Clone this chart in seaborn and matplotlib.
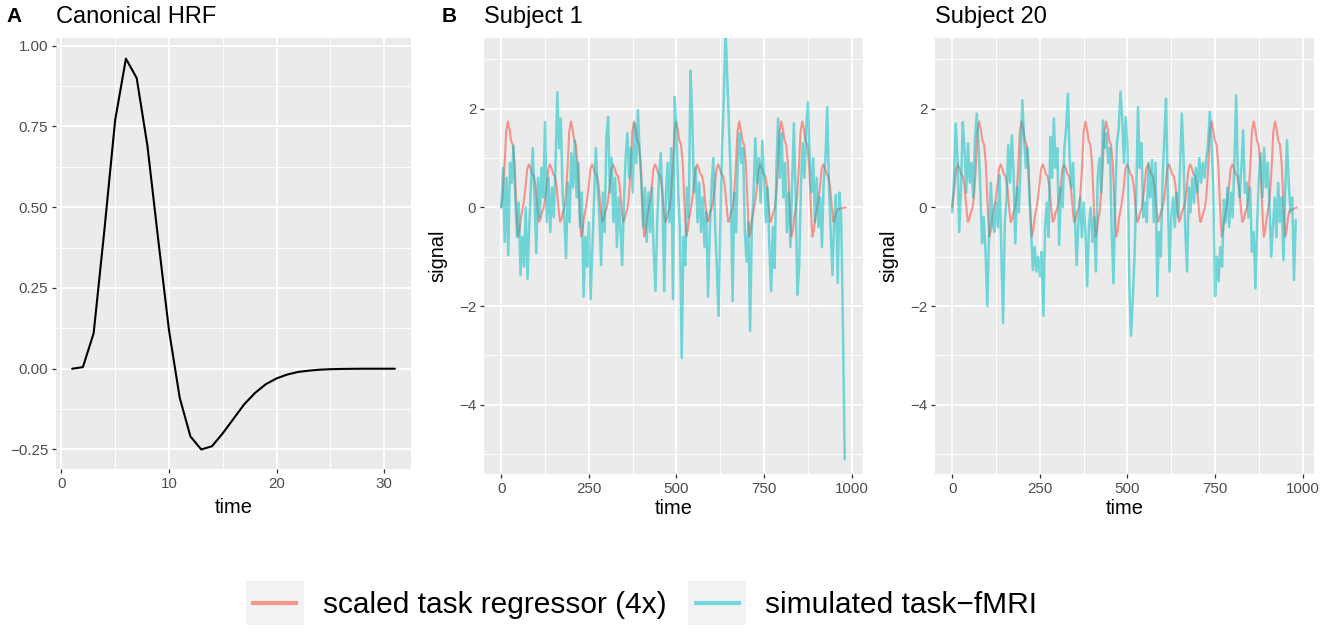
import numpy as np
import pandas as pd
import seaborn as sns
import matplotlib
matplotlib.use("Agg")
import matplotlib.pyplot as plt
from matplotlib.ticker import MultipleLocator, FuncFormatter
from matplotlib.patches import Rectangle
from matplotlib.lines import Line2D
from matplotlib.legend_handler import HandlerBase

# ---------------- data ----------------
hrf_time = list(range(1, 32))
hrf_value = [0.0, 0.005, 0.11, 0.43, 0.77, 0.96, 0.90, 0.69, 0.40, 0.12, -0.09,
             -0.21, -0.25, -0.24, -0.20, -0.155, -0.11, -0.075, -0.048, -0.03,
             -0.018, -0.01, -0.006, -0.003, -0.0015, -0.0007, -0.0003, 0.0, 0.0,
             0.0, 0.0]

# shape of one regressor response (offset from peak, fraction of peak)
resp_offset = [-19, -15, -10, -5, 0, 5, 9, 14, 19, 22, 24, 26, 29, 33, 37, 41]
resp_shape = [0.0, 0.12, 0.44, 0.88, 1.0, 0.9, 0.78, 0.73, 0.5, 0.2, 0.03,
              -0.15, -0.34, -0.27, -0.12, -0.04]

s1_peak_time = [19, 79, 139, 199, 259, 319, 379, 439, 499, 559, 619, 679, 739, 799, 859, 919]
s1_peak_height = [1.74, 0.87, 0.87, 1.74, 0.87, 0.87, 1.74, 0.87, 1.74, 0.87, 0.87,
                  1.74, 0.87, 1.74, 1.74, 0.87]
s20_peak_time = [16, 77, 138, 198, 258, 319, 380, 439, 499, 558, 618, 679, 740, 799, 860, 921]
s20_peak_height = [0.87, 1.74, 0.87, 1.74, 0.87, 0.87, 1.74, 1.74, 0.87, 0.87, 0.87,
                   0.87, 1.74, 0.87, 1.74, 1.74]
series_end = 983

fmri_time = list(range(0, 985, 5))
s1_fmri = [
    0.0, 0.8, -0.7, 0.6, -0.97, 0.9, 0.5, 1.25, 0.2, -0.6, 0.1, -1.37,
    -0.6, -1.2, 0.0, -1.45, -0.4, 0.5, 1.2, 0.2, -0.93, 0.6, -0.2, 0.8,
    0.2, 1.73, -0.3, 0.6, -0.5, 0.4, -0.2, 0.9, 2.33, 1.2, 1.8, 0.3,
    -0.2, -1.03, 0.5, -0.3, 1.1, 0.4, 1.36, 0.2, 0.9, -0.4, 0.3, -1.81,
    -0.6, -1.2, -0.3, -1.86, -0.8, 0.2, 1.2, 0.4, -0.2, -1.17, 0.3, -0.5,
    1.4, 1.83, 0.3, 1.0, -0.3, 0.6, -0.8, 0.2, -0.4, -1.17, 0.1, 1.0,
    1.5, 0.6, 1.2, 0.3, 1.7, 0.9, 1.97, 1.1, 0.5, -0.4, 0.4, -0.7,
    0.3, -0.5, 0.4, -0.9, -1.69, -0.3, 0.6, 1.1, 0.2, -1.7, 0.3, 0.9,
    -0.3, 1.2, -1.86, 2.24, 1.5, 0.3, -0.5, -3.05, -0.6, -1.17, 0.4, -0.2,
    2.77, 1.8, 0.3, 0.8, -0.3, 0.5, -0.5, 0.2, -0.8, -0.1, -1.81, -0.5,
    0.4, 1.0, -0.3, -1.2, -2.2, -0.4, 1.2, 2.2, 3.6, 2.6, 1.6, 0.5,
    -1.9, 0.3, -0.5, 0.9, 1.5, 0.9, 1.2, -0.5, -1.1, -0.3, -2.5, -0.4,
    0.3, 1.4, 0.5, 1.0, 0.1, 1.35, 0.6, -0.3, 0.4, -0.8, -1.7, -0.4,
    -1.23, 0.8, 1.8, 0.6, 1.5, 0.2, 0.9, -0.5, 0.3, -0.8, 0.5, 1.7,
    0.2, -1.77, -1.2, 0.4, 1.3, 0.6, 1.6, 2.13, 1.0, 0.3, 1.0, -0.3,
    0.6, -0.4, 0.2, -0.8, 0.5, 1.0, 2.03, 0.4, -0.5, -1.37, -0.2, 0.25,
    -1.53, 0.3, -0.2, -2.5, -5.1,
]
s20_fmri = [
    -0.1, 0.6, 1.7, 1.0, -0.5, 0.4, 1.73, 1.2, 0.3, 1.3, 0.5, 0.9,
    0.2, 1.4, 1.9, 1.3, 0.4, -0.73, -0.2, -0.9, -2.0, -0.6, 0.5, -0.3,
    -0.5, 0.1, -0.4, 0.65, -0.8, -2.34, -0.3, 0.2, 1.26, 0.5, 1.46, 0.7,
    -0.73, 0.4, -0.1, 0.9, 2.17, 1.4, 0.8, 1.2, 0.3, -0.5, -1.27, -0.8,
    -1.3, -1.0, -1.4, -0.9, -2.2, -0.4, 0.1, -0.6, 1.43, 0.6, 1.8, 0.8,
    1.2, -0.76, 0.4, 0.0, 1.2, 1.6, 2.3, 1.0, 0.4, 0.9, -0.2, -1.17,
    -0.3, 0.2, -0.6, 0.1, -0.5, -1.6, -0.4, 0.0, -0.7, -0.2, -1.3, 0.6,
    1.0, 0.3, 1.76, 1.2, 1.5, 0.9, 1.2, -0.5, -1.54, 0.2, 1.3, 1.6,
    2.34, 1.8, 0.9, 1.83, 1.2, -1.5, -2.6, -1.9, -1.0, 0.3, 2.03, 0.8,
    1.3, -0.2, 0.1, -0.3, 0.9, 0.2, 0.96, -0.3, 0.9, -1.8, -0.5, -1.0,
    0.5, 1.4, 2.2, 0.3, -1.3, -0.2, 0.2, -0.4, 0.3, -0.2, 0.8, 1.9,
    1.0, -0.5, -1.3, 0.4, -0.1, 0.6, 0.1, 0.8, 0.3, 1.0, 0.5, 0.9,
    0.6, 1.0, 1.3, 1.93, 1.3, 0.4, -1.8, -1.0, -1.5, -0.8, -1.2, 0.15,
    -0.3, 0.4, -0.4, 0.3, -0.2, 0.9, 2.27, 0.7, 0.2, 0.8, 1.56, 0.3,
    0.5, -0.2, 0.4, -0.9, -0.5, -1.64, -0.3, 0.6, 1.1, 0.2, 1.2, 0.4,
    0.9, 0.1, -1.0, -0.4, 0.2, -0.6, 0.5, -0.3, 0.2, -1.07, 0.3, 1.36,
    0.5, -0.1, 0.2, -1.47, -0.26,
]

series_labels = ["scaled task regressor (4x)", "simulated task\u2212fMRI"]
series_colors = ["#F8766D", "#00BFC4"]
series_alpha = [0.75, 0.52]


def regressor_knots(peaks, heights):
    t, v = [0.0], [0.0]
    for p, h in zip(peaks, heights):
        for o, s in zip(resp_offset, resp_shape):
            if p + o > t[-1]:
                t.append(p + o)
                v.append(h * s)
    t.append(series_end)
    v.append(0.0)
    return pd.DataFrame({"time": t, "signal": v})


# ---------------- style ----------------
sns.set_theme(style="darkgrid", rc={
    "axes.facecolor": "#EBEBEB",
    "grid.color": "white",
    "axes.edgecolor": "none",
    "text.color": "black",
    "axes.labelcolor": "black",
})
plt.rcParams["font.family"] = ["Liberation Sans", "DejaVu Sans"]
plt.rcParams["axes.unicode_minus"] = True

W, H = 1325, 638
fig = plt.figure(figsize=(W / 100, H / 100), dpi=100)
fig.patch.set_facecolor("white")


def style_axes(ax, xmaj, xmin, ymaj, ymin):
    ax.set_facecolor("#EBEBEB")
    for s in ax.spines.values():
        s.set_visible(False)
    ax.xaxis.set_major_locator(MultipleLocator(xmaj))
    ax.xaxis.set_minor_locator(MultipleLocator(xmin))
    ax.yaxis.set_major_locator(MultipleLocator(ymaj))
    ax.yaxis.set_minor_locator(MultipleLocator(ymin))
    ax.grid(which="major", color="white", lw=1.4)
    ax.grid(which="minor", color="white", lw=0.7)
    ax.set_axisbelow(True)
    ax.tick_params(which="major", length=3.0, width=0.9, color="#333333",
                   labelsize=10.9, labelcolor="#4D4D4D", pad=2.5,
                   bottom=True, left=True)
    ax.tick_params(which="minor", length=0)


def minus_fmt(fmt):
    return FuncFormatter(lambda x, p: fmt.format(x).replace("-", "\u2212"))


# Panel A
axA = fig.add_axes([56 / W, 1 - 469 / H, 355 / W, 431 / H])
hrf_df = pd.DataFrame({"time": hrf_time, "value": hrf_value})
sns.lineplot(data=hrf_df, x="time", y="value", color="black", lw=1.5,
             estimator=None, sort=False, ax=axA)
style_axes(axA, 10, 5, 0.25, 0.125)
axA.set_xlim(-0.5, 32.5)
axA.set_ylim(-0.3105, 1.024)
axA.yaxis.set_major_formatter(minus_fmt("{:.2f}"))
axA.xaxis.set_major_formatter(minus_fmt("{:.0f}"))
axA.set_ylabel("")
axA.set_xlabel("time", fontsize=14.4)
axA.xaxis.set_label_coords(0.5, -0.068)
axA.set_title("Canonical HRF", loc="left", fontsize=17, pad=10.5)

# Panels B
subjects = [
    ("Subject 1", s1_peak_time, s1_peak_height, s1_fmri, 484),
    ("Subject 20", s20_peak_time, s20_peak_height, s20_fmri, 935),
]
axes_b = []
for title, pk, ph, fmri, left in subjects:
    ax = fig.add_axes([left / W, 1 - 474 / H, 379 / W, 436 / H])
    reg_df = regressor_knots(pk, ph)
    fmri_df = pd.DataFrame({"time": fmri_time, "signal": fmri})
    sns.lineplot(data=reg_df, x="time", y="signal", color=series_colors[0],
                 alpha=series_alpha[0], lw=1.5, estimator=None, sort=False,
                 ax=ax, label=series_labels[0])
    sns.lineplot(data=fmri_df, x="time", y="signal", color=series_colors[1],
                 alpha=series_alpha[1], lw=1.8, estimator=None, sort=False,
                 ax=ax, label=series_labels[1])
    ax.get_legend().remove()
    style_axes(ax, 250, 125, 2, 1)
    ax.set_xlim(-49.15, 1032.15)
    ax.set_ylim(-5.4, 3.43)
    ax.yaxis.set_major_formatter(minus_fmt("{:.0f}"))
    ax.xaxis.set_major_formatter(minus_fmt("{:.0f}"))
    ax.set_xlabel("time", fontsize=14.4)
    ax.set_ylabel("signal", fontsize=14.4)
    ax.xaxis.set_label_coords(0.5, -0.057)
    ax.yaxis.set_label_coords(-0.0976, 0.5)
    ax.set_title(title, loc="left", fontsize=17, pad=10.5)
    axes_b.append(ax)

fig.text(6 / W, 1 - 22 / H, "A", fontsize=15, fontweight="bold", va="baseline")
fig.text(442 / W, 1 - 22 / H, "B", fontsize=15, fontweight="bold", va="baseline")


# legend with grey key boxes
class KeyHandler(HandlerBase):
    def create_artists(self, legend, orig_handle, xdescent, ydescent, width,
                       height, fontsize, trans):
        x0, y0 = -xdescent, -ydescent
        bg = Rectangle((x0, y0), width, height, facecolor="#F2F2F2",
                       edgecolor="none", transform=trans)
        ln = Line2D([x0 + 0.09 * width, x0 + 0.91 * width],
                    [y0 + height / 2, y0 + height / 2],
                    color=orig_handle.get_color(), alpha=orig_handle.get_alpha(),
                    lw=3.0, solid_capstyle="butt", transform=trans)
        return [bg, ln]


handles = axes_b[0].lines[:2]
fig.legend(handles, series_labels, loc="center",
           bbox_to_anchor=(641.5 / W, 1 - 603 / H), ncol=2, frameon=False,
           fontsize=21.5, handlelength=1.94, handleheight=1.94,
           handletextpad=0.64, columnspacing=0.74, borderpad=0,
           labelcolor="black",
           handler_map={Line2D: KeyHandler()})

fig.savefig("out.png", dpi=100)
